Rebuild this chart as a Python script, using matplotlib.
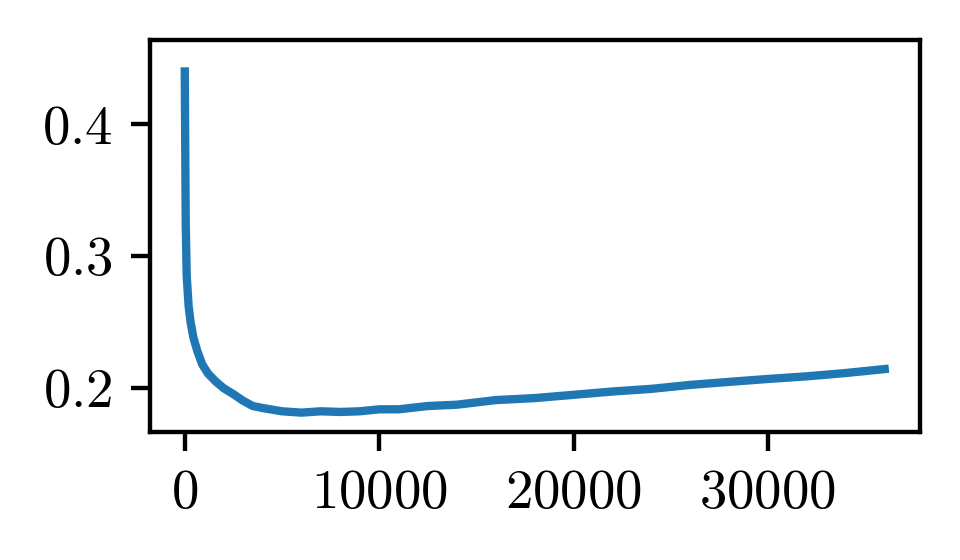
import numpy as np
import matplotlib
matplotlib.use('Agg')
import matplotlib.pyplot as plt

plt.rcParams['font.family'] = 'serif'
plt.rcParams['font.serif'] = ['cmr10', 'DejaVu Serif']
plt.rcParams['mathtext.fontset'] = 'cm'
plt.rcParams['axes.formatter.use_mathtext'] = True
plt.rcParams['font.size'] = 13.2
plt.rcParams['axes.linewidth'] = 1.05
for ax_name in ['xtick', 'ytick']:
    plt.rcParams[ax_name + '.major.size'] = 4.5
    plt.rcParams[ax_name + '.major.width'] = 1.05
    plt.rcParams[ax_name + '.major.pad'] = 4.5

# training steps and loss
steps = [0, 50, 100, 200, 300, 450, 650, 900, 1200, 1600, 2000, 2500, 3000,
         3500, 4000, 5000, 6000, 7000, 8000, 9000, 10000, 11000, 12500, 14000,
         16000, 18000, 20000, 22000, 24000, 26000, 28000, 30000, 32000, 34000, 36000]
loss = [0.440, 0.325, 0.285, 0.262, 0.250, 0.238, 0.228, 0.218, 0.211, 0.205,
        0.200, 0.1955, 0.1905, 0.1865, 0.1850, 0.1825, 0.1815, 0.1825, 0.182, 0.1825,
        0.184, 0.184, 0.1865, 0.1875, 0.1910, 0.1925, 0.1950, 0.1975, 0.1995,
        0.2025, 0.2048, 0.2070, 0.2090, 0.2115, 0.2145]

fig = plt.figure(figsize=(3.2, 1.8667), dpi=300)
ax = fig.add_axes([0.156, 0.229, 0.802, 0.700])

ax.plot(steps, loss, color='#1f77b4', linewidth=2.0)
ax.set_ylim(0.167, 0.464)
ax.set_yticks([0.2, 0.3, 0.4])
ax.set_xticks([0, 10000, 20000, 30000])

fig.savefig('out.png', dpi=300)
